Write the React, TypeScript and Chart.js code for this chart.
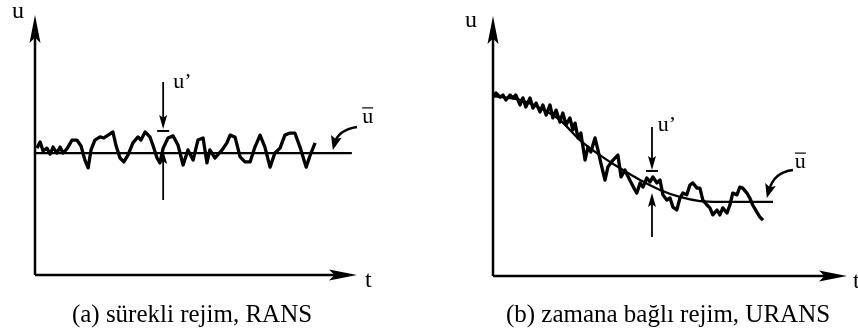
import React, { useEffect, useRef } from "react";
import { Chart, registerables } from "chart.js";

Chart.register(...registerables);

// ---------- Panel (a): steady regime, RANS ----------
const ransTime = [
  0.06, 0.16, 0.25, 0.37, 0.47, 0.56, 0.68, 0.78, 0.87, 0.99, 1.15, 1.3, 1.43, 1.55, 1.65, 1.74, 1.86, 2.02,
  2.14, 2.27, 2.42, 2.52, 2.64, 2.76, 2.89, 3.04, 3.2, 3.29, 3.42, 3.57, 3.66, 3.79, 3.88, 3.98, 4.13, 4.29,
  4.44, 4.6, 4.75, 4.91, 5.06, 5.22, 5.34, 5.43, 5.59, 5.81, 5.96, 6.06, 6.21, 6.37, 6.52, 6.68, 6.83, 6.99,
  7.14, 7.3, 7.45, 7.61, 7.76, 7.92, 8.07, 8.23, 8.42, 8.57, 8.7,
];
const ransU = [
  4.88, 5.12, 4.77, 4.88, 4.65, 4.92, 4.69, 4.92, 4.69, 4.85, 5.19, 5.19, 4.96, 4.42, 4.12, 4.81, 5.19, 5.31,
  5.27, 5.38, 5.5, 4.96, 4.5, 4.35, 4.62, 5.08, 5.31, 5.19, 5.5, 5.31, 5.0, 4.5, 4.31, 4.88, 5.27, 5.35,
  5.0, 4.23, 4.81, 4.42, 5.19, 5.27, 4.31, 4.81, 4.5, 4.81, 5.08, 5.38, 5.31, 4.54, 4.35, 4.35, 4.92, 5.38,
  4.92, 4.15, 4.69, 4.88, 5.38, 5.46, 5.46, 4.92, 4.15, 4.69, 5.08,
];
const ransMeanTime = [0, 9.84];
const ransMeanU = [4.69, 4.69];

// ---------- Panel (b): time-dependent regime, URANS ----------
const uransTime = [
  0.0, 0.09, 0.22, 0.31, 0.4, 0.53, 0.62, 0.71, 0.84, 0.93, 1.02, 1.15, 1.24, 1.34, 1.46, 1.55, 1.65, 1.77,
  1.86, 1.96, 2.08, 2.17, 2.27, 2.39, 2.48, 2.55, 2.64, 2.73, 2.86, 2.95, 3.04, 3.17, 3.26, 3.35, 3.48, 3.57,
  3.73, 3.88, 3.98, 4.1, 4.25, 4.41, 4.47, 4.57, 4.66, 4.78, 4.88, 4.97, 5.09, 5.19, 5.28, 5.4, 5.5, 5.59,
  5.71, 5.81, 5.9, 6.02, 6.12, 6.21, 6.34, 6.43, 6.52, 6.65, 6.74, 6.83, 6.96, 7.05, 7.14, 7.27, 7.36, 7.45,
  7.58, 7.67, 7.76, 7.89, 7.98, 8.07, 8.2, 8.29, 8.39,
];
const uransU = [
  6.88, 7.04, 6.88, 6.96, 6.77, 6.96, 6.85, 6.96, 6.58, 6.85, 6.5, 6.85, 6.46, 6.65, 6.31, 6.58, 6.19, 6.58,
  6.08, 6.38, 5.92, 6.27, 5.81, 6.08, 5.62, 5.88, 5.31, 5.5, 4.46, 4.96, 4.77, 5.31, 4.85, 4.35, 3.69, 4.19,
  4.46, 4.65, 3.81, 4.08, 3.69, 3.31, 3.19, 3.58, 3.42, 3.77, 3.62, 3.81, 3.58, 3.69, 3.12, 2.92, 3.0, 2.65,
  2.54, 3.0, 3.19, 3.12, 3.5, 3.58, 3.38, 3.38, 2.92, 2.73, 2.62, 2.35, 2.54, 2.35, 2.62, 2.42, 2.73, 3.19,
  3.12, 3.42, 3.38, 3.19, 3.0, 2.73, 2.46, 2.27, 2.15,
];
const uransMeanTime = [0, 0.84, 1.46, 2.08, 2.7, 3.32, 3.94, 4.57, 5.19, 5.81, 6.43, 7.05, 8.7];
const uransMeanU = [6.92, 6.77, 6.46, 6.0, 5.23, 4.65, 4.15, 3.69, 3.31, 3.04, 2.88, 2.85, 2.85];

// ---------- Text ----------
const captions = ["(a) sürekli rejim, RANS", "(b) zamana bağlı rejim, URANS"];
const axisLabels = ["u", "t"];
const fluctuationLabel = "u\u2019";
const meanLabel = "u";

const SERIF = '"Liberation Serif", "Times New Roman", serif';

const pts = (ts: number[], us: number[]) => ts.map((t, i) => ({ x: t, y: us[i] }));

function head(ctx: CanvasRenderingContext2D, x: number, y: number, ang: number, len: number, w: number) {
  ctx.save();
  ctx.translate(x, y);
  ctx.rotate(ang);
  ctx.beginPath();
  ctx.moveTo(0, 0);
  ctx.lineTo(-len, w / 2);
  ctx.lineTo(-len * 0.8, 0);
  ctx.lineTo(-len, -w / 2);
  ctx.closePath();
  ctx.fill();
  ctx.restore();
}

function makePlugin(a: any) {
  return {
    id: "diagram",
    afterDraw(chart: any) {
      const ctx: CanvasRenderingContext2D = chart.ctx;
      const { left: L, right: R, top: T, bottom: B } = chart.chartArea;
      const xs = chart.scales.x;
      const ys = chart.scales.y;
      const px = (t: number) => xs.getPixelForValue(t);
      const py = (u: number) => ys.getPixelForValue(u);
      ctx.save();
      ctx.strokeStyle = "#000";
      ctx.fillStyle = "#000";
      ctx.lineCap = "butt";

      // axes
      ctx.lineWidth = 2.5;
      ctx.beginPath();
      ctx.moveTo(L, B);
      ctx.lineTo(L, T + 12);
      ctx.moveTo(L, B);
      ctx.lineTo(R - 12, B);
      ctx.stroke();
      head(ctx, L, T, -Math.PI / 2, 28, 11);
      head(ctx, R, B, 0, 28, 11);

      // axis labels
      ctx.font = "24px " + SERIF;
      ctx.textBaseline = "alphabetic";
      ctx.textAlign = "left";
      ctx.fillText(axisLabels[0], L + a.uLabel[0], T + a.uLabel[1]);
      ctx.fillText(axisLabels[1], R + a.tLabel[0], B + a.tLabel[1]);

      // u' fluctuation arrows
      const f = a.fluc;
      const fx = px(f.t);
      ctx.lineWidth = 1.8;
      ctx.beginPath();
      ctx.moveTo(fx, py(f.top));
      ctx.lineTo(fx, py(f.downTip) - 8);
      ctx.moveTo(fx, py(f.upBottom));
      ctx.lineTo(fx, py(f.upTip) + 8);
      ctx.stroke();
      head(ctx, fx, py(f.downTip), Math.PI / 2, 14, 8);
      head(ctx, fx, py(f.upTip), -Math.PI / 2, 14, 8);
      ctx.lineWidth = 2;
      ctx.beginPath();
      ctx.moveTo(fx - 6, py(f.bar));
      ctx.lineTo(fx + 6, py(f.bar));
      ctx.stroke();
      ctx.font = "22px " + SERIF;
      ctx.fillText(fluctuationLabel, px(f.labelT), py(f.labelU));

      // mean label with overline and curved arrow
      const m = a.mean;
      const mx = px(m.textT);
      const my = py(m.textU);
      ctx.fillText(meanLabel, mx, my);
      const w = ctx.measureText(meanLabel).width;
      ctx.lineWidth = 1.2;
      ctx.beginPath();
      ctx.moveTo(mx, my - 15);
      ctx.lineTo(mx + w, my - 15);
      ctx.stroke();
      const tx = px(m.tipT);
      const ty = py(m.tipU);
      const cx = px(m.ctrlT);
      const cy = py(m.ctrlU);
      ctx.lineWidth = 2.5;
      ctx.beginPath();
      ctx.moveTo(px(m.fromT), py(m.fromU));
      ctx.quadraticCurveTo(cx, cy, tx + (cx - tx) * 0.3, ty + (cy - ty) * 0.3);
      ctx.stroke();
      head(ctx, tx, ty, Math.atan2(ty - cy, tx - cx), 14, 11);

      // caption
      ctx.font = "25px " + SERIF;
      ctx.textAlign = "center";
      ctx.fillText(a.caption, a.capX, a.capY);
      ctx.restore();
    },
  };
}

function Panel(props: any) {
  const ref = useRef<HTMLCanvasElement>(null);
  useEffect(() => {
    const chart = new Chart(ref.current as HTMLCanvasElement, {
      type: "line",
      data: {
        datasets: [
          {
            data: props.noise,
            borderColor: "#000",
            borderWidth: 3.3,
            pointRadius: 0,
            tension: 0,
            fill: false,
            borderJoinStyle: "round",
          } as any,
          {
            data: props.mean,
            borderColor: "#000",
            borderWidth: 2.3,
            pointRadius: 0,
            cubicInterpolationMode: "monotone",
            fill: false,
          } as any,
        ],
      },
      options: {
        responsive: false,
        animation: false,
        devicePixelRatio: 1,
        events: [],
        layout: { padding: props.padding },
        scales: {
          x: { type: "linear", min: 0, max: props.xMax, display: false },
          y: { type: "linear", min: 0, max: 10, display: false },
        },
        plugins: { legend: { display: false }, tooltip: { enabled: false } },
      },
      plugins: [makePlugin(props.annot)],
    });
    return () => chart.destroy();
  }, []);
  return (
    <canvas
      ref={ref}
      width={props.width}
      height={333}
      style={{ position: "absolute", left: props.left, top: 0, width: props.width, height: 333 }}
    />
  );
}

export default function App() {
  return (
    <div style={{ position: "fixed", left: 0, top: 0, width: 858, height: 333, background: "#fff", overflow: "hidden" }}>
      <Panel
        left={0}
        width={429}
        xMax={10}
        padding={{ left: 35, right: 72, top: 15, bottom: 58 }}
        noise={pts(ransTime, ransU)}
        mean={pts(ransMeanTime, ransMeanU)}
        annot={{
          uLabel: [-23, 3],
          tLabel: [8, 12],
          fluc: { t: 3.98, top: 7.42, downTip: 5.62, bar: 5.54, upBottom: 2.88, upTip: 4.81, labelT: 4.29, labelU: 7.19 },
          mean: { textT: 10.16, textU: 5.85, fromT: 10.0, fromU: 5.69, ctrlT: 9.41, ctrlU: 5.58, tipT: 9.25, tipU: 4.81 },
          caption: captions[0],
          capX: 192,
          capY: 322,
        }}
      />
      <Panel
        left={429}
        width={429}
        xMax={11}
        padding={{ left: 64, right: 11, top: 16, bottom: 57 }}
        noise={pts(uransTime, uransU)}
        mean={pts(uransMeanTime, uransMeanU)}
        annot={{
          uLabel: [-28, 11],
          tLabel: [6, 12],
          fluc: { t: 4.94, top: 5.73, downTip: 4.08, bar: 4.04, upBottom: 1.5, upTip: 3.19, labelT: 5.12, labelU: 5.58 },
          mean: { textT: 9.38, textU: 4.15, fromT: 9.32, fromU: 4.08, ctrlT: 8.73, ctrlU: 4.0, tipT: 8.51, tipU: 3.0 },
          caption: captions[1],
          capX: 239,
          capY: 322,
        }}
      />
    </div>
  );
}
